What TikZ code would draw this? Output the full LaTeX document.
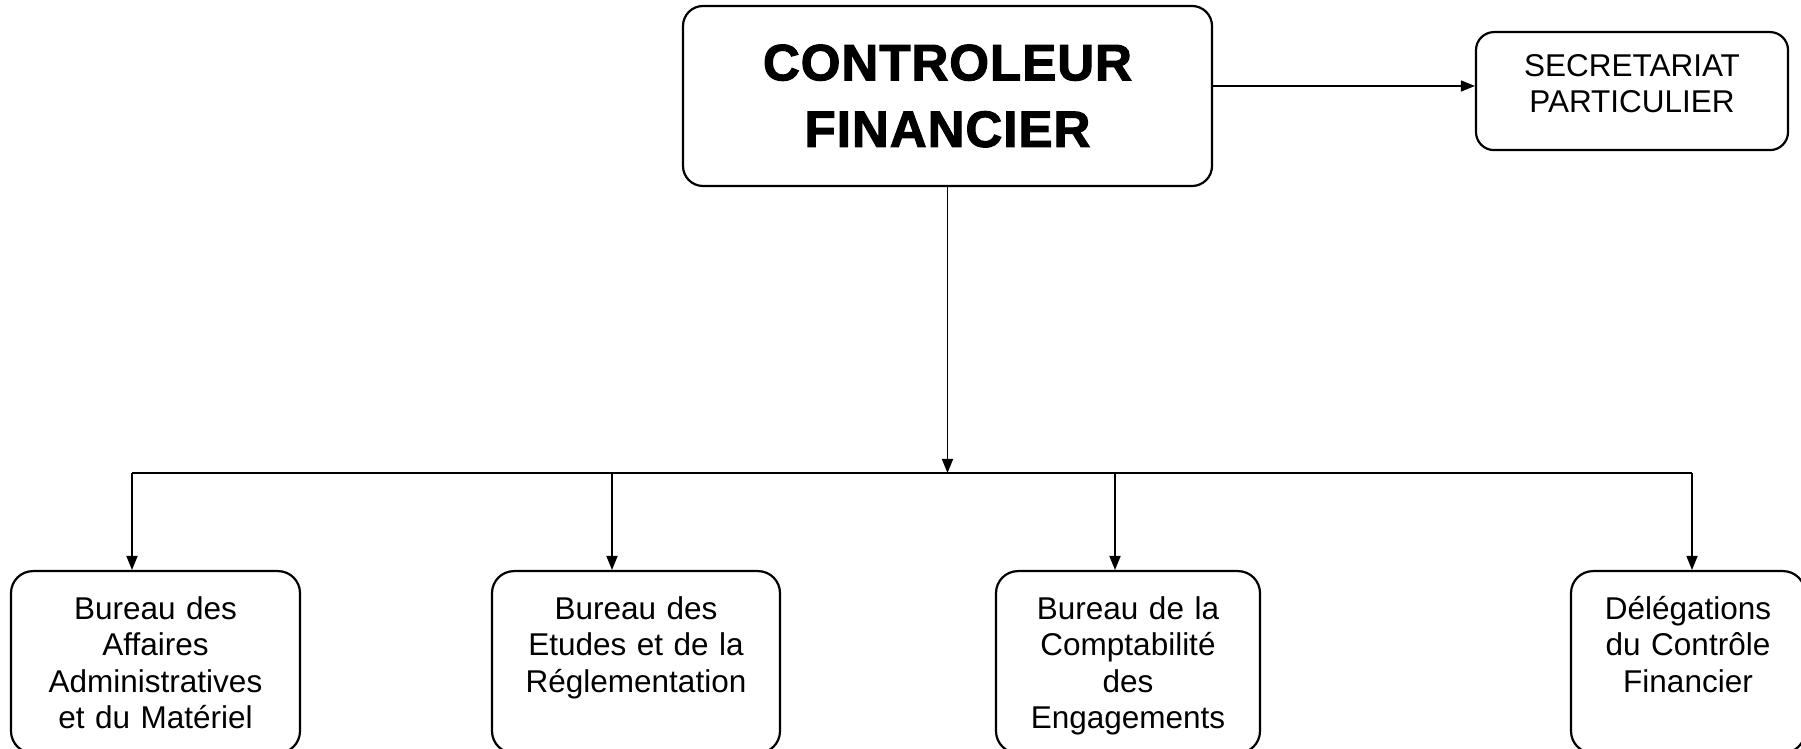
\documentclass[tikz,border=0pt]{standalone}
\usepackage{fontspec}
\setmainfont{Liberation Sans}
\newfontfamily\heavyfont{Liberation Sans Bold}[FakeBold=2.2, LetterSpace=2]
\usepackage{tikz}
\usetikzlibrary{arrows.meta, positioning, calc}

\begin{document}
\begin{tikzpicture}[x=1pt, y=1pt,
  chief/.style={rectangle, rounded corners=20pt, draw, line width=2.2pt,
    minimum width=529pt, minimum height=180pt, align=center,
    font=\heavyfont\fontsize{51}{66.6}\selectfont},
  unit/.style={rectangle, rounded corners=22pt, draw, line width=2.2pt,
    text width=#1, align=center, inner sep=0pt, anchor=north,
    text height=48pt, text depth=134pt, font=\fontsize{31.5}{36.5}\selectfont},
  arr/.style={-{Triangle[length=14pt, width=11pt]}, line width=1.6pt},
]
  \useasboundingbox (0,0) rectangle (1801,749);

  % head of the service and its secretariat
  \node[chief] (ctrl) at (947.5,653) {CONTROLEUR\\FINANCIER};
  \node[unit=312pt, text height=44pt, text depth=74pt, rounded corners=18pt]
    (sec) at (1632,718) {SECRETARIAT\\PARTICULIER};
  \draw[arr] ([yshift=10pt]ctrl.east) -- ([yshift=10pt]ctrl.east -| sec.west);

  % bureaus
  \node[unit=289pt] (b1) at (155.5,179) {Bureau des\\Affaires\\Administratives\\et du Mat\'eriel};
  \node[unit=288pt] (b2) at (636,179) {Bureau des\\Etudes et de la\\R\'eglementation};
  \node[unit=264pt] (b3) at (1128,179) {Bureau de la\\Comptabilit\'e\\des\\Engagements};
  \node[unit=234pt] (b4) at (1688,179) {D\'el\'egations\\du Contr\^ole\\Financier};

  % distribution line
  \coordinate (hub) at (ctrl.south |- 0,276);
  \coordinate (j1) at (132,276);
  \coordinate (j2) at (612,276);
  \coordinate (j3) at (1115,276);
  \coordinate (j4) at (1692,276);
  \draw[arr] (ctrl.south) -- (hub);
  \draw[line width=1.6pt] (j1) -- (j4);
  \foreach \j/\b in {j1/b1, j2/b2, j3/b3, j4/b4}
    \draw[arr] (\j) -- (\j |- \b.north);
\end{tikzpicture}
\end{document}
